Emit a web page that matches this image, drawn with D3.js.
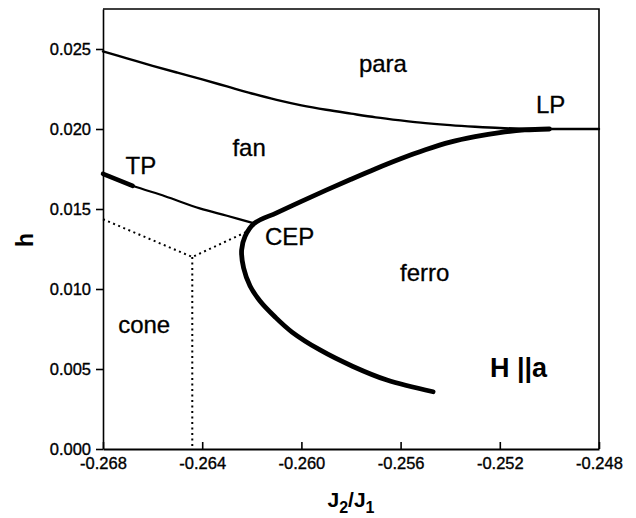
<!DOCTYPE html>
<html>
<head>
<meta charset="utf-8">
<script src="https://cdn.jsdelivr.net/npm/d3@7/dist/d3.min.js"></script>
<style>
  body { margin: 0; background: #fff; }
  svg { display: block; }
  text { font-family: "Liberation Sans", Arial, sans-serif; fill: #000; }
</style>
</head>
<body>
<script>
// Axis ticks
const xTickValues = [-0.268, -0.264, -0.260, -0.256, -0.252, -0.248];
const yTickValues = [0.000, 0.005, 0.010, 0.015, 0.020, 0.025];

// para / fan boundary (second order), ends on the h = 0.020 line
const paraX = [-0.268, -0.267, -0.266, -0.265, -0.264, -0.263, -0.262, -0.261, -0.260, -0.259,
               -0.258, -0.257, -0.256, -0.255, -0.254, -0.253, -0.252, -0.251, -0.250, -0.249, -0.248];
const paraY = [0.02485, 0.02440, 0.02395, 0.02352, 0.02310, 0.02266, 0.02222, 0.02182, 0.02148, 0.02120,
               0.02096, 0.02073, 0.02054, 0.02037, 0.02024, 0.02014, 0.02006, 0.02002, 0.02000, 0.02000, 0.02000];

// ferro boundary (first order): from LP through CEP, round the nose, down to its end
const ferroX = [-0.2500, -0.2510, -0.2520, -0.2530, -0.2540, -0.2550, -0.2560, -0.2570, -0.2580, -0.2590,
                -0.2600, -0.2610, -0.2619, -0.26227, -0.26241, -0.26233, -0.26207, -0.26167, -0.26106, -0.26038,
                -0.25925, -0.25792, -0.25655, -0.25469];
const ferroY = [0.02000, 0.01994, 0.01978, 0.01952, 0.01918, 0.01870, 0.01814, 0.01752, 0.01686, 0.01618,
                0.01548, 0.01476, 0.01410, 0.01330, 0.01244, 0.01131, 0.01019, 0.00925, 0.00825, 0.00731,
                0.00619, 0.00516, 0.00431, 0.00358];

// fan / cone boundary from the left edge to CEP
const tpX = [-0.268, -0.2668, -0.2655, -0.2641, -0.2630, -0.2619];
const tpY = [0.01720, 0.01645, 0.01580, 0.01504, 0.01458, 0.01410];

// first-order stretch of the fan / cone boundary (left of TP)
const tpThickX = [-0.268, -0.2668];
const tpThickY = [0.01720, 0.01645];

// dotted cone boundaries
const coneTopX = [-0.268, -0.2644, -0.2622];
const coneTopY = [0.01436, 0.01200, 0.01358];
const coneVertX = [-0.2644, -0.2644];
const coneVertY = [0.01200, 0.00000];

// phase labels and points
const labelText = ["para", "LP", "fan", "TP", "CEP", "ferro", "cone"];
const labelX = [-0.25768, -0.25054, -0.26278, -0.26709, -0.26147, -0.25602, -0.26739];
const labelY = [0.02356, 0.02098, 0.01831, 0.01717, 0.01275, 0.01052, 0.00723];

const W = 636, H = 518;
const margin = { left: 103, right: 37, top: 9, bottom: 69 };

const svg = d3.select("body").append("svg")
  .attr("width", W).attr("height", H)
  .attr("viewBox", `0 0 ${W} ${H}`);

const x = d3.scaleLinear().domain([-0.268, -0.248]).range([margin.left, W - margin.right]);
const y = d3.scaleLinear().domain([0, 0.0275]).range([H - margin.bottom, margin.top]);

const fmt = v => d3.format(".3f")(v).replace("\u2212", "-");

// frame: top and right edges
svg.append("path")
  .attr("d", `M${x(-0.268)},${y(0.0275)}H${x(-0.248)}V${y(0)}`)
  .attr("fill", "none").attr("stroke", "#000").attr("stroke-width", 1.6);

// x axis, ticks pointing into the plot
const xAxis = svg.append("g")
  .attr("transform", `translate(0,${y(0)})`)
  .call(d3.axisBottom(x).tickValues(xTickValues).tickFormat(fmt)
        .tickSizeInner(-7).tickSizeOuter(0).tickPadding(8));
xAxis.select(".domain").attr("stroke-width", 2.2);
xAxis.selectAll(".tick line").attr("stroke-width", 1.6);
xAxis.selectAll("text").attr("font-size", 16.5)
  .attr("font-family", "'Liberation Sans', Arial, sans-serif")
  .attr("stroke", "#000").attr("stroke-width", 0.35);

// y axis, ticks pointing outwards
const yAxis = svg.append("g")
  .attr("transform", `translate(${x(-0.268)},0)`)
  .call(d3.axisLeft(y).tickValues(yTickValues).tickFormat(fmt)
        .tickSizeInner(7).tickSizeOuter(0).tickPadding(5));
yAxis.select(".domain").attr("stroke-width", 1.6);
yAxis.selectAll(".tick line").attr("stroke-width", 1.6);
yAxis.selectAll("text").attr("font-size", 16.5)
  .attr("font-family", "'Liberation Sans', Arial, sans-serif")
  .attr("stroke", "#000").attr("stroke-width", 0.35);

const pts = (xs, ys) => xs.map((v, i) => [v, ys[i]]);
const smooth = d3.line().x(d => x(d[0])).y(d => y(d[1])).curve(d3.curveCatmullRom.alpha(0.5));
const straight = d3.line().x(d => x(d[0])).y(d => y(d[1]));

const plot = svg.append("g").attr("fill", "none").attr("stroke", "#000");

// dotted cone boundaries
plot.append("path").attr("d", straight(pts(coneTopX, coneTopY)))
  .attr("stroke-width", 2).attr("stroke-dasharray", "2,3.5");
plot.append("path").attr("d", straight(pts(coneVertX, coneVertY)))
  .attr("stroke-width", 2).attr("stroke-dasharray", "2,3.5");

// second-order lines
plot.append("path").attr("d", smooth(pts(paraX, paraY)))
  .attr("stroke-width", 2.4).attr("stroke-linecap", "round");
plot.append("path").attr("d", smooth(pts(tpX, tpY)))
  .attr("stroke-width", 2.2).attr("stroke-linecap", "round");

// first-order lines
plot.append("path").attr("d", straight(pts(tpThickX, tpThickY)))
  .attr("stroke-width", 4.5).attr("stroke-linecap", "round");
plot.append("path").attr("d", smooth(pts(ferroX, ferroY)))
  .attr("stroke-width", 4.8).attr("stroke-linecap", "round").attr("stroke-linejoin", "round");

// phase labels
svg.append("g").selectAll("text")
  .data(labelText)
  .join("text")
  .attr("x", (d, i) => x(labelX[i]))
  .attr("y", (d, i) => y(labelY[i]))
  .attr("font-size", 24)
  .attr("stroke", "#000").attr("stroke-width", 0.3)
  .text(d => d);

// field direction
svg.append("text")
  .attr("x", x(-0.2524)).attr("y", y(0.00452))
  .attr("font-size", 27).attr("font-weight", "bold")
  .text("H ||a");

// axis titles
const xt = svg.append("text")
  .attr("x", (x(-0.268) + x(-0.248)) / 2).attr("y", 507)
  .attr("text-anchor", "middle").attr("font-size", 21).attr("font-weight", "bold");
xt.append("tspan").text("J");
xt.append("tspan").attr("font-size", 16).attr("dy", 6).text("2");
xt.append("tspan").attr("dy", -6).text("/J");
xt.append("tspan").attr("font-size", 16).attr("dy", 6).text("1");

svg.append("text")
  .attr("transform", `translate(33,${(y(0) + y(0.0275)) / 2 + 11}) rotate(-90)`)
  .attr("text-anchor", "middle").attr("font-size", 23).attr("font-weight", "bold")
  .text("h");
</script>
</body>
</html>
